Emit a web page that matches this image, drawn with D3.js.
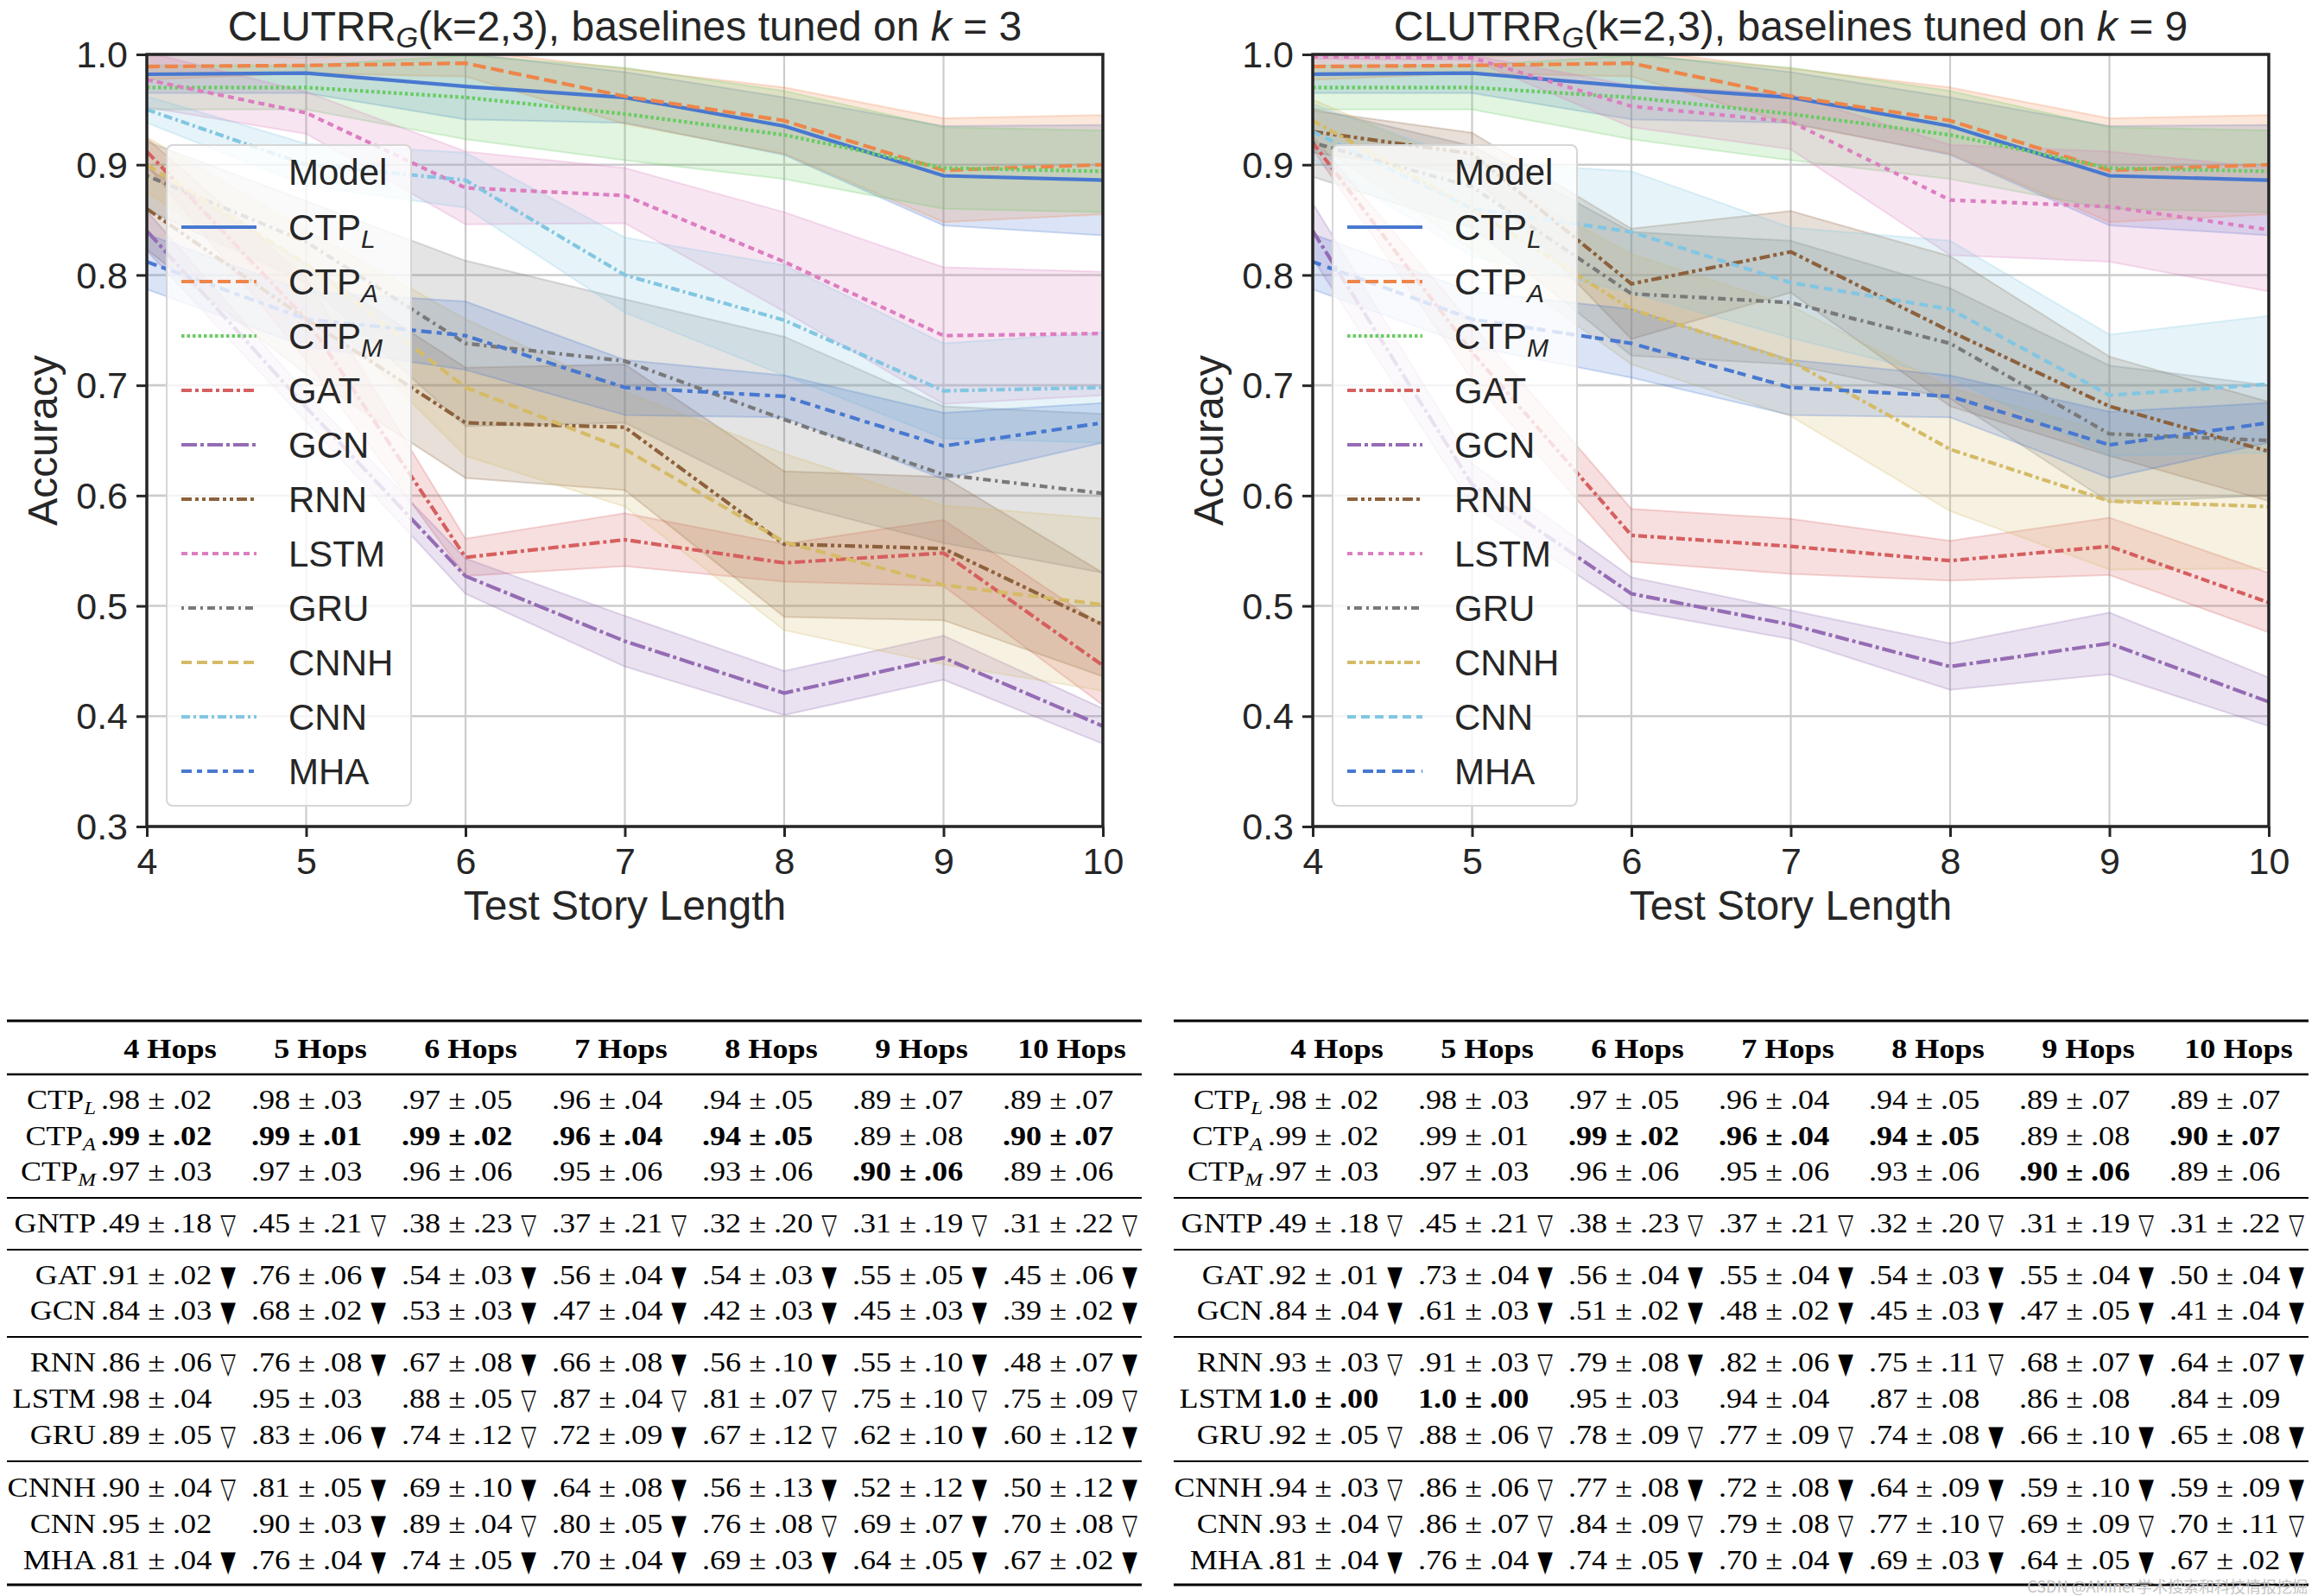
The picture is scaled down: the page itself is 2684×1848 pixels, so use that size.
<!DOCTYPE html>
<html>
<head>
<meta charset="utf-8">
<script src="https://cdn.jsdelivr.net/npm/d3@7"></script>
<style>
  html, body { margin: 0; padding: 0; background: #ffffff; }
  svg { display: block; }
</style>
</head>
<body>
<svg id="chart" width="2684" height="1848"></svg>
<script>
// ------------------------------------------------------------------ DATA
const hops = [4, 5, 6, 7, 8, 9, 10];
const yTickValues = [0.3, 0.4, 0.5, 0.6, 0.7, 0.8, 0.9, 1.0];
const modelNames = ["CTP_L", "CTP_A", "CTP_M", "GAT", "GCN", "RNN", "LSTM", "GRU", "CNNH", "CNN", "MHA"];
const panelK = ["3", "9"];

// CTP models (same in both panels): mean accuracy and CI half-width
const ctpL = [0.982, 0.983, 0.971, 0.961, 0.935, 0.890, 0.886];
const ctpLci = [0.017, 0.018, 0.030, 0.023, 0.026, 0.045, 0.050];
const ctpA = [0.989, 0.990, 0.992, 0.962, 0.940, 0.895, 0.900];
const ctpAci = [0.012, 0.007, 0.012, 0.025, 0.030, 0.047, 0.045];
const ctpM = [0.970, 0.970, 0.961, 0.946, 0.927, 0.897, 0.894];
const ctpMci = [0.020, 0.020, 0.038, 0.042, 0.040, 0.037, 0.037];

// baselines tuned on k = 3
const k3GAT = [0.912, 0.760, 0.544, 0.560, 0.539, 0.548, 0.446];
const k3GATci = [0.012, 0.037, 0.017, 0.024, 0.017, 0.030, 0.036];
const k3GCN = [0.840, 0.680, 0.527, 0.468, 0.421, 0.453, 0.391];
const k3GCNci = [0.018, 0.013, 0.016, 0.023, 0.020, 0.020, 0.016];
const k3RNN = [0.860, 0.760, 0.666, 0.662, 0.556, 0.552, 0.483];
const k3RNNci = [0.037, 0.050, 0.050, 0.057, 0.066, 0.065, 0.047];
const k3LSTM = [0.977, 0.947, 0.879, 0.872, 0.812, 0.745, 0.747];
const k3LSTMci = [0.025, 0.019, 0.033, 0.025, 0.045, 0.062, 0.056];
const k3GRU = [0.890, 0.830, 0.738, 0.722, 0.669, 0.619, 0.602];
const k3GRUci = [0.031, 0.037, 0.075, 0.056, 0.075, 0.062, 0.072];
const k3CNNH = [0.900, 0.810, 0.698, 0.642, 0.558, 0.519, 0.501];
const k3CNNHci = [0.025, 0.031, 0.062, 0.052, 0.080, 0.072, 0.078];
const k3CNN = [0.950, 0.900, 0.886, 0.800, 0.759, 0.695, 0.698];
const k3CNNci = [0.012, 0.019, 0.025, 0.034, 0.050, 0.043, 0.050];
const k3MHA = [0.812, 0.760, 0.745, 0.698, 0.690, 0.645, 0.666];
const k3MHAci = [0.025, 0.025, 0.031, 0.025, 0.019, 0.030, 0.018];

// baselines tuned on k = 9
const k9GAT = [0.920, 0.730, 0.564, 0.554, 0.541, 0.554, 0.503];
const k9GATci = [0.006, 0.025, 0.024, 0.025, 0.018, 0.026, 0.027];
const k9GCN = [0.840, 0.610, 0.511, 0.483, 0.445, 0.466, 0.413];
const k9GCNci = [0.025, 0.019, 0.015, 0.013, 0.021, 0.028, 0.022];
const k9RNN = [0.930, 0.910, 0.792, 0.821, 0.749, 0.681, 0.640];
const k9RNNci = [0.019, 0.019, 0.050, 0.037, 0.068, 0.045, 0.045];
const k9LSTM = [0.998, 0.997, 0.953, 0.939, 0.868, 0.862, 0.841];
const k9LSTMci = [0.002, 0.002, 0.019, 0.025, 0.050, 0.050, 0.056];
const k9GRU = [0.920, 0.880, 0.783, 0.775, 0.738, 0.656, 0.650];
const k9GRUci = [0.031, 0.037, 0.056, 0.056, 0.050, 0.062, 0.050];
const k9CNNH = [0.940, 0.860, 0.769, 0.722, 0.642, 0.595, 0.590];
const k9CNNHci = [0.019, 0.037, 0.050, 0.050, 0.056, 0.062, 0.056];
const k9CNN = [0.930, 0.860, 0.839, 0.793, 0.769, 0.691, 0.701];
const k9CNNci = [0.025, 0.043, 0.055, 0.050, 0.062, 0.055, 0.062];
const k9MHA = [0.812, 0.760, 0.738, 0.698, 0.690, 0.646, 0.666];
const k9MHAci = [0.025, 0.025, 0.031, 0.025, 0.019, 0.030, 0.018];

// table (cell = "mean±std" + optional marker; leading * = bold)
const tableHeads = ["4 Hops", "5 Hops", "6 Hops", "7 Hops", "8 Hops", "9 Hops", "10 Hops"];
const tableRowNames = ["CTP_L", "CTP_A", "CTP_M", "GNTP", "GAT", "GCN", "RNN", "LSTM", "GRU", "CNNH", "CNN", "MHA"];
const tCTP_L = [".98±.02", ".98±.03", ".97±.05", ".96±.04", ".94±.05", ".89±.07", ".89±.07"];
const tCTP_M = [".97±.03", ".97±.03", ".96±.06", ".95±.06", ".93±.06", "*.90±.06", ".89±.06"];
const tGNTP = [".49±.18▽", ".45±.21▽", ".38±.23▽", ".37±.21▽", ".32±.20▽", ".31±.19▽", ".31±.22▽"];
const tMHA = [".81±.04▼", ".76±.04▼", ".74±.05▼", ".70±.04▼", ".69±.03▼", ".64±.05▼", ".67±.02▼"];

const t3CTP_A = ["*.99±.02", "*.99±.01", "*.99±.02", "*.96±.04", "*.94±.05", ".89±.08", "*.90±.07"];
const t3GAT = [".91±.02▼", ".76±.06▼", ".54±.03▼", ".56±.04▼", ".54±.03▼", ".55±.05▼", ".45±.06▼"];
const t3GCN = [".84±.03▼", ".68±.02▼", ".53±.03▼", ".47±.04▼", ".42±.03▼", ".45±.03▼", ".39±.02▼"];
const t3RNN = [".86±.06▽", ".76±.08▼", ".67±.08▼", ".66±.08▼", ".56±.10▼", ".55±.10▼", ".48±.07▼"];
const t3LSTM = [".98±.04", ".95±.03", ".88±.05▽", ".87±.04▽", ".81±.07▽", ".75±.10▽", ".75±.09▽"];
const t3GRU = [".89±.05▽", ".83±.06▼", ".74±.12▽", ".72±.09▼", ".67±.12▽", ".62±.10▼", ".60±.12▼"];
const t3CNNH = [".90±.04▽", ".81±.05▼", ".69±.10▼", ".64±.08▼", ".56±.13▼", ".52±.12▼", ".50±.12▼"];
const t3CNN = [".95±.02", ".90±.03▼", ".89±.04▽", ".80±.05▼", ".76±.08▽", ".69±.07▼", ".70±.08▽"];

const t9CTP_A = [".99±.02", ".99±.01", "*.99±.02", "*.96±.04", "*.94±.05", ".89±.08", "*.90±.07"];
const t9GAT = [".92±.01▼", ".73±.04▼", ".56±.04▼", ".55±.04▼", ".54±.03▼", ".55±.04▼", ".50±.04▼"];
const t9GCN = [".84±.04▼", ".61±.03▼", ".51±.02▼", ".48±.02▼", ".45±.03▼", ".47±.05▼", ".41±.04▼"];
const t9RNN = [".93±.03▽", ".91±.03▽", ".79±.08▼", ".82±.06▼", ".75±.11▽", ".68±.07▼", ".64±.07▼"];
const t9LSTM = ["*1.0±.00", "*1.0±.00", ".95±.03", ".94±.04", ".87±.08", ".86±.08", ".84±.09"];
const t9GRU = [".92±.05▽", ".88±.06▽", ".78±.09▽", ".77±.09▽", ".74±.08▼", ".66±.10▼", ".65±.08▼"];
const t9CNNH = [".94±.03▽", ".86±.06▽", ".77±.08▼", ".72±.08▼", ".64±.09▼", ".59±.10▼", ".59±.09▼"];
const t9CNN = [".93±.04▽", ".86±.07▽", ".84±.09▽", ".79±.08▽", ".77±.10▽", ".69±.09▽", ".70±.11▽"];

const watermark = "CSDN @AMiner学术搜索和科技情报挖掘";

// ------------------------------------------------------------------ STYLE
const modelColors = ["#4878d0", "#ee854a", "#6acc64", "#d65f5f", "#956cb4", "#8c613c",
                     "#dc7ec0", "#797979", "#d5bb67", "#82c6e2", "#4878d0"];
const dashK3 = [null, "15,6", "3.5,3", "12,4,4,4", "18,4,4,4", "12,4,4,4,4,4", "7,5", "3,5,9,5", "12,6", "10,4,3,4", "12,6,6,6"];
const dashK9 = [null, "15,6", "3.5,3", "10,4,4,4", "16,4,4,4", "12,4,4,4,4,4", "6,6", "3,5,9,5", "10,4,4,4", "10,6", "10,8,12,4"];
const SANS = "'Liberation Sans', Arial, Helvetica, sans-serif";
const SERIF = "'Liberation Serif', 'Times New Roman', serif";
const INK = "#262626";
const PY0 = 63, PY1 = 957;

const svg = d3.select("#chart");
const defs = svg.append("defs");

function subLabel(sel, name, subSize, subDy) {
  const parts = name.split("_");
  sel.append("tspan").text(parts[0]);
  if (parts.length > 1) {
    sel.append("tspan").attr("font-style", "italic").attr("font-size", subSize)
      .attr("dy", subDy).text(parts[1]);
  }
}

function drawPanel(cfg) {
  const g = svg.append("g");
  const x = d3.scaleLinear().domain([4, 10]).range([cfg.x0, cfg.x1]);
  const y = d3.scaleLinear().domain([0.3, 1.0]).range([PY1, PY0]);
  const clipId = "clip" + cfg.k;
  defs.append("clipPath").attr("id", clipId).append("rect")
    .attr("x", cfg.x0).attr("y", PY0).attr("width", cfg.x1 - cfg.x0).attr("height", PY1 - PY0);

  // grid
  g.append("g").selectAll("line").data(hops).join("line")
    .attr("x1", d => x(d)).attr("x2", d => x(d)).attr("y1", PY0).attr("y2", PY1)
    .attr("stroke", "#cccccc").attr("stroke-width", 2.2);
  g.append("g").selectAll("line").data(yTickValues).join("line")
    .attr("x1", cfg.x0).attr("x2", cfg.x1).attr("y1", d => y(d)).attr("y2", d => y(d))
    .attr("stroke", "#cccccc").attr("stroke-width", 2.6);

  const plot = g.append("g").attr("clip-path", `url(#${clipId})`);
  const area = d3.area().x((d, i) => x(hops[i])).y0(d => y(d[0] - d[1])).y1(d => y(d[0] + d[1]));
  cfg.means.forEach((m, j) => {
    const data = m.map((v, i) => [v, cfg.cis[j][i]]);
    plot.append("path").datum(data).attr("d", area)
      .attr("fill", modelColors[j]).attr("fill-opacity", 0.2)
      .attr("stroke", modelColors[j]).attr("stroke-opacity", 0.25).attr("stroke-width", 2);
  });
  const line = d3.line().x((d, i) => x(hops[i])).y(d => y(d));
  cfg.means.forEach((m, j) => {
    plot.append("path").datum(m).attr("d", line).attr("fill", "none")
      .attr("stroke", modelColors[j]).attr("stroke-width", 4.2)
      .attr("stroke-dasharray", cfg.dashes[j]);
  });

  // axes
  const gx = g.append("g").attr("transform", `translate(0,${PY1})`)
    .call(d3.axisBottom(x).tickValues(hops).tickSize(12).tickSizeOuter(0).tickFormat(d3.format("d")));
  gx.attr("font-size", 43).attr("font-family", SANS);
  gx.select(".domain").remove();
  gx.selectAll(".tick line").attr("stroke", INK).attr("stroke-width", 3);
  gx.selectAll(".tick text").attr("y", 55).attr("dy", null).attr("fill", INK);

  const gy = g.append("g").attr("transform", `translate(${cfg.x0},0)`)
    .call(d3.axisLeft(y).tickValues(yTickValues).tickSize(12).tickPadding(10).tickSizeOuter(0).tickFormat(d3.format(".1f")));
  gy.attr("font-size", 43).attr("font-family", SANS);
  gy.select(".domain").remove();
  gy.selectAll(".tick line").attr("stroke", INK).attr("stroke-width", 3);
  gy.selectAll(".tick text").attr("dy", "0.34em").attr("fill", INK);

  // spines
  g.append("rect").attr("x", cfg.x0).attr("y", PY0).attr("width", cfg.x1 - cfg.x0).attr("height", PY1 - PY0)
    .attr("fill", "none").attr("stroke", INK).attr("stroke-width", 3.5);

  // axis labels
  const cx = (cfg.x0 + cfg.x1) / 2;
  g.append("text").attr("x", cx).attr("y", 1065).attr("text-anchor", "middle")
    .attr("font-family", SANS).attr("font-size", 48).attr("fill", INK).text("Test Story Length");
  g.append("text").attr("transform", `translate(${cfg.x0 - 104},${(PY0 + PY1) / 2}) rotate(-90)`)
    .attr("text-anchor", "middle").attr("font-family", SANS).attr("font-size", 48).attr("fill", INK).text("Accuracy");

  // title
  const t = g.append("text").attr("x", cx).attr("y", 47).attr("text-anchor", "middle")
    .attr("font-family", SANS).attr("font-size", 48).attr("fill", INK);
  t.append("tspan").text("CLUTRR");
  t.append("tspan").attr("font-style", "italic").attr("font-size", 33).attr("dy", 8).text("G");
  t.append("tspan").attr("dy", -8).text("(k=2,3), baselines tuned on ");
  t.append("tspan").attr("font-style", "italic").text("k");
  t.append("tspan").text(" = " + cfg.k);

  // legend
  const lg = g.append("g").attr("transform", `translate(${cfg.x0 + 23},168)`);
  lg.append("rect").attr("x", 0).attr("y", 0).attr("width", 283).attr("height", 765).attr("rx", 7)
    .attr("fill", "#ffffff").attr("fill-opacity", 0.8).attr("stroke", "#d6d6d6").attr("stroke-width", 2);
  lg.append("text").attr("x", 141).attr("y", 46).attr("font-family", SANS).attr("font-size", 42)
    .attr("fill", INK).text("Model");
  modelNames.forEach((name, j) => {
    const cy = 32 + 63 * (j + 1);
    lg.append("line").attr("x1", 17).attr("x2", 104).attr("y1", cy).attr("y2", cy)
      .attr("stroke", modelColors[j]).attr("stroke-width", 4.2).attr("stroke-dasharray", cfg.dashes[j]);
    const tx = lg.append("text").attr("x", 141).attr("y", cy + 15).attr("font-family", SANS)
      .attr("font-size", 42).attr("fill", INK);
    subLabel(tx, name, 30, 9);
  });
}

drawPanel({k: panelK[0], x0: 170, x1: 1277, dashes: dashK3,
  means: [ctpL, ctpA, ctpM, k3GAT, k3GCN, k3RNN, k3LSTM, k3GRU, k3CNNH, k3CNN, k3MHA],
  cis: [ctpLci, ctpAci, ctpMci, k3GATci, k3GCNci, k3RNNci, k3LSTMci, k3GRUci, k3CNNHci, k3CNNci, k3MHAci]});
drawPanel({k: panelK[1], x0: 1520, x1: 2627, dashes: dashK9,
  means: [ctpL, ctpA, ctpM, k9GAT, k9GCN, k9RNN, k9LSTM, k9GRU, k9CNNH, k9CNN, k9MHA],
  cis: [ctpLci, ctpAci, ctpMci, k9GATci, k9GCNci, k9RNNci, k9LSTMci, k9GRUci, k9CNNHci, k9CNNci, k9MHAci]});

// ------------------------------------------------------------------ TABLES
const SXT = 1.13;
const rowBase = [1284, 1326, 1367, 1427, 1487, 1528, 1588, 1630, 1672, 1733, 1775, 1817];
const rules = [[1182, 3], [1244, 2.6], [1387, 2], [1447, 2], [1548, 2], [1692, 2], [1835, 3]];

function drawTable(ox, rowsCells) {
  const g = svg.append("g");
  g.selectAll("line.rule").data(rules).join("line").attr("class", "rule")
    .attr("x1", ox + 8).attr("x2", ox + 1322).attr("y1", d => d[0]).attr("y2", d => d[0])
    .attr("stroke", "#000").attr("stroke-width", d => d[1]);
  const colX = i => ox + 117 + 174 * i;
  tableHeads.forEach((h, i) => {
    g.append("text").attr("transform", `translate(${colX(i) + 80},1225) scale(${SXT},1)`)
      .attr("text-anchor", "middle").attr("font-family", SERIF).attr("font-weight", "bold")
      .attr("font-size", 32).attr("fill", "#000").text(h);
  });
  tableRowNames.forEach((name, r) => {
    const yb = rowBase[r];
    const lab = g.append("text").attr("transform", `translate(${ox + 111},${yb}) scale(${SXT},1)`)
      .attr("text-anchor", "end").attr("font-family", SERIF).attr("font-size", 32).attr("fill", "#000");
    subLabel(lab, name, 22, 6);
    rowsCells[r].forEach((cell, i) => {
      let c = cell, bold = false, marker = "";
      if (c.startsWith("*")) { bold = true; c = c.slice(1); }
      const last = c.slice(-1);
      if (last === "▽" || last === "▼") { marker = last; c = c.slice(0, -1); }
      const [m, s] = c.split("±");
      g.append("text").attr("transform", `translate(${colX(i)},${yb}) scale(${SXT},1)`)
        .attr("font-family", SERIF).attr("font-size", 32).attr("fill", "#000")
        .attr("font-weight", bold ? "bold" : "normal").text(`${m} ± ${s}`);
      if (marker) {
        g.append("text").attr("transform", `translate(${colX(i) + 147},${yb + 2}) scale(0.72,1.05)`)
          .attr("text-anchor", "middle").attr("font-family", "'DejaVu Sans', sans-serif")
          .attr("font-size", 32).attr("fill", "#000").text(marker);
      }
    });
  });
}

drawTable(0, [tCTP_L, t3CTP_A, tCTP_M, tGNTP, t3GAT, t3GCN, t3RNN, t3LSTM, t3GRU, t3CNNH, t3CNN, tMHA]);
drawTable(1351, [tCTP_L, t9CTP_A, tCTP_M, tGNTP, t9GAT, t9GCN, t9RNN, t9LSTM, t9GRU, t9CNNH, t9CNN, tMHA]);

svg.append("text").attr("x", 2672).attr("y", 1844).attr("text-anchor", "end")
  .attr("font-family", "'Noto Sans CJK SC', 'Noto Sans', sans-serif").attr("font-size", 18)
  .attr("fill", "#c4c4c4").text(watermark);
</script>
</body>
</html>
